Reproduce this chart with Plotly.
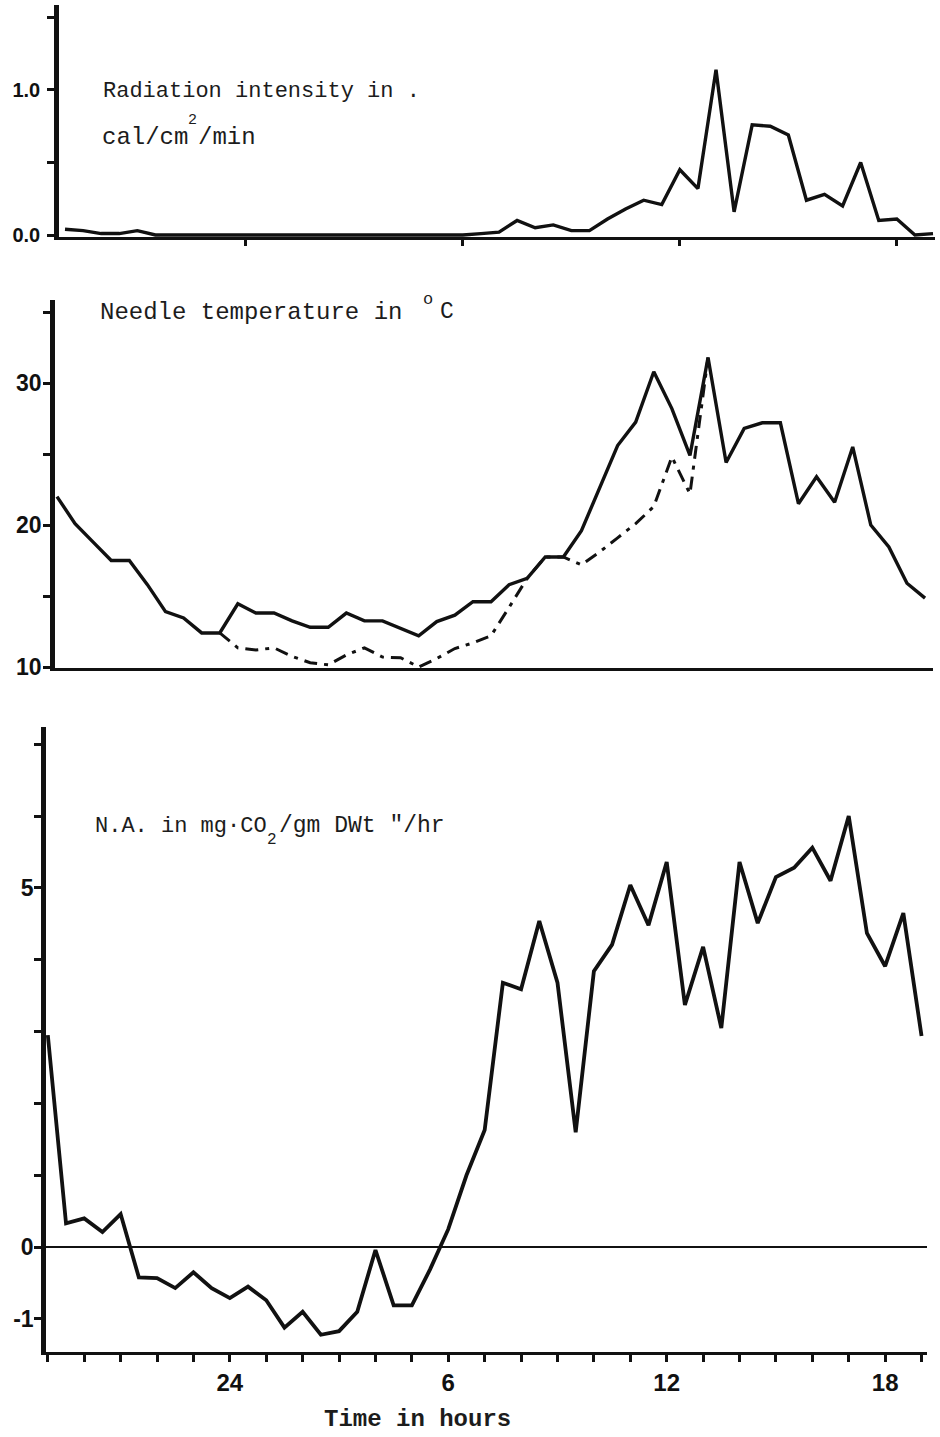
import plotly.graph_objects as go

# ---------------- data ----------------
hours = [19.0, 19.5, 20.0, 20.5, 21.0, 21.5, 22.0, 22.5, 23.0, 23.5,
         24.0, 24.5, 25.0, 25.5, 26.0, 26.5, 27.0, 27.5, 28.0, 28.5,
         29.0, 29.5, 30.0, 30.5, 31.0, 31.5, 32.0, 32.5, 33.0, 33.5,
         34.0, 34.5, 35.0, 35.5, 36.0, 36.5, 37.0, 37.5, 38.0, 38.5,
         39.0, 39.5, 40.0, 40.5, 41.0, 41.5, 42.0, 42.5, 43.0]

radiation = [0.04, 0.03, 0.01, 0.01, 0.03, 0.0, 0.0, 0.0, 0.0, 0.0,
             0.0, 0.0, 0.0, 0.0, 0.0, 0.0, 0.0, 0.0, 0.0, 0.0,
             0.0, 0.0, 0.0, 0.01, 0.02, 0.10, 0.05, 0.07, 0.03, 0.03,
             0.11, 0.18, 0.24, 0.21, 0.45, 0.32, 1.14, 0.16, 0.76, 0.75,
             0.69, 0.24, 0.28, 0.20, 0.50, 0.10, 0.11, 0.0, 0.01]

needle_temp = [22.0, 20.1, 18.8, 17.5, 17.5, 15.8, 13.9, 13.45, 12.4, 12.4,
               14.45, 13.8, 13.8, 13.25, 12.8, 12.8, 13.8, 13.25, 13.25, 12.75,
               12.2, 13.2, 13.65, 14.6, 14.6, 15.8, 16.25, 17.75, 17.75, 19.6,
               22.6, 25.6, 27.25, 30.8, 28.2, 24.9, 31.8, 24.4, 26.8, 27.2,
               27.2, 21.5, 23.4, 21.6, 25.5, 20.0, 18.45, 15.9, 14.85]

needle_temp2_hours = [23.5, 24.0, 24.5, 25.0, 25.5, 26.0, 26.5, 27.0, 27.5, 28.0,
                      28.5, 29.0, 29.5, 30.0, 30.5, 31.0, 31.5, 32.0, 32.5, 33.0,
                      33.5, 34.0, 34.5, 35.0, 35.5, 36.0, 36.5, 37.0]
needle_temp2 = [12.4, 11.35, 11.2, 11.35, 10.75, 10.3, 10.15, 10.85, 11.35, 10.7,
                10.65, 10.0, 10.6, 11.3, 11.7, 12.2, 14.2, 16.25, 17.75, 17.75,
                17.2, 18.1, 19.1, 20.1, 21.3, 24.8, 22.2, 31.8]

net_assim = [2.95, 0.33, 0.40, 0.21, 0.46, -0.42, -0.43, -0.57, -0.35, -0.57,
             -0.71, -0.55, -0.74, -1.12, -0.90, -1.22, -1.17, -0.90, -0.04, -0.81,
             -0.81, -0.31, 0.25, 1.0, 1.63, 3.68, 3.59, 4.54, 3.68, 1.60,
             3.84, 4.21, 5.04, 4.48, 5.36, 3.37, 4.18, 3.05, 5.36, 4.51,
             5.15, 5.28, 5.56, 5.10, 6.0, 4.37, 3.91, 4.65, 2.94]

x_tick_hours = [24, 30, 36, 42]
x_tick_text = ["24", "6", "12", "18"]
all_hour_ticks = list(range(19, 44))

rad_ticks = [0.0, 0.5, 1.0, 1.5]
rad_ticktext = ["0.0", "", "1.0", ""]
temp_ticks = [10, 15, 20, 25, 30, 35]
temp_ticktext = ["10", "", "20", "", "30", ""]
na_ticks = [-1, 0, 1, 2, 3, 4, 5, 6, 7]
na_ticktext = ["-1", "0", "", "", "", "", "5", "", ""]

# ---------------- layout helpers ----------------
W, H = 940, 1437


def dx(px):
    return px / W


def dy(py):
    return 1 - py / H


INK = "#111111"
LBL = "Liberation Sans, Arial, sans-serif"
MONO = "Liberation Mono, Courier New, monospace"

fig = go.Figure()

fig.add_trace(go.Scatter(x=hours, y=radiation, mode="lines",
                         line=dict(color=INK, width=3.4),
                         xaxis="x", yaxis="y", showlegend=False))
fig.add_trace(go.Scatter(x=hours, y=needle_temp, mode="lines",
                         line=dict(color=INK, width=3.4),
                         xaxis="x2", yaxis="y2", showlegend=False))
fig.add_trace(go.Scatter(x=needle_temp2_hours, y=needle_temp2, mode="lines",
                         line=dict(color=INK, width=3, dash="13px,7px,4px,7px"),
                         xaxis="x2", yaxis="y2", showlegend=False))
fig.add_trace(go.Scatter(x=hours, y=net_assim, mode="lines",
                         line=dict(color=INK, width=3.8),
                         xaxis="x3", yaxis="y3", showlegend=False))

common_y = dict(showgrid=False, zeroline=False, showline=True, linecolor=INK,
                linewidth=4.5, ticks="outside", tickcolor=INK, tickwidth=2.5,
                tickmode="array")
common_x = dict(showgrid=False, zeroline=False, showline=True, linecolor=INK,
                linewidth=3, tickcolor=INK, tickwidth=2.5)

fig.update_layout(
    width=W, height=H, margin=dict(l=0, r=0, t=0, b=0),
    paper_bgcolor="white", plot_bgcolor="white", template="none",
    showlegend=False,
    # top panel
    xaxis=dict(common_x, domain=[dx(59), dx(935)], range=[18.834, 43.055],
               anchor="y", tickmode="array", tickvals=x_tick_hours,
               ticktext=["", "", "", ""], ticks="outside", ticklen=6),
    yaxis=dict(common_y, domain=[dy(237.2), dy(5)], range=[-0.015, 1.586],
               anchor="x", tickvals=rad_ticks, ticktext=rad_ticktext, ticklen=7,
               ticklabelstandoff=3,
               tickfont=dict(family=LBL, size=20, color=INK, weight="bold")),
    # middle panel
    xaxis2=dict(common_x, domain=[dx(55), dx(933)], range=[18.945, 43.22],
                anchor="y2", ticks="", showticklabels=False),
    yaxis2=dict(common_y, domain=[dy(668), dy(300)], range=[9.93, 35.85],
                anchor="x2", tickvals=temp_ticks, ticktext=temp_ticktext, ticklen=7,
                ticklabelstandoff=-3,
                tickfont=dict(family=LBL, size=23, color=INK, weight="bold")),
    # bottom panel
    xaxis3=dict(common_x, domain=[dx(46), dx(927)], range=[18.95, 43.15],
                anchor="y3", tickmode="array", tickvals=all_hour_ticks,
                ticktext=[x_tick_text[x_tick_hours.index(h)] if h in x_tick_hours else ""
                          for h in all_hour_ticks],
                ticks="outside", ticklen=7, ticklabelstandoff=0,
                tickfont=dict(family=LBL, size=24, color=INK, weight="bold")),
    yaxis3=dict(common_y, domain=[dy(1352), dy(727)], range=[-1.46, 7.24],
                anchor="x3", tickvals=na_ticks, ticktext=na_ticktext, ticklen=7,
                ticklabelstandoff=-4, zeroline=True, zerolinecolor=INK, zerolinewidth=2,
                tickfont=dict(family=LBL, size=23, color=INK, weight="bold")),
)


def note(text, px, py, size, bold=False):
    fig.add_annotation(text=text, xref="paper", yref="paper",
                       x=dx(px), y=dy(py), xanchor="left", yanchor="middle",
                       showarrow=False,
                       font=dict(family=MONO, size=size, color="#1c1c1c",
                                 weight="bold" if bold else "normal"))


# panel captions (left x, vertical centre in pixels)
note("Radiation intensity in .", 101, 91, 22)
note("cal/cm", 100, 137, 24)
note("2", 186, 121, 15)
note("/min", 196, 137, 24)

note("Needle temperature in", 98, 312, 24)
note("o", 421, 299, 17)
note("C", 438, 312, 23)

note("N.A. in mg\u00b7CO", 93, 826, 22)
note("2", 265, 840, 16)
note("/gm DWt \"/hr", 277, 826, 23)

note("Time in hours", 322, 1419, 24, bold=True)

fig.write_html("out.html")
